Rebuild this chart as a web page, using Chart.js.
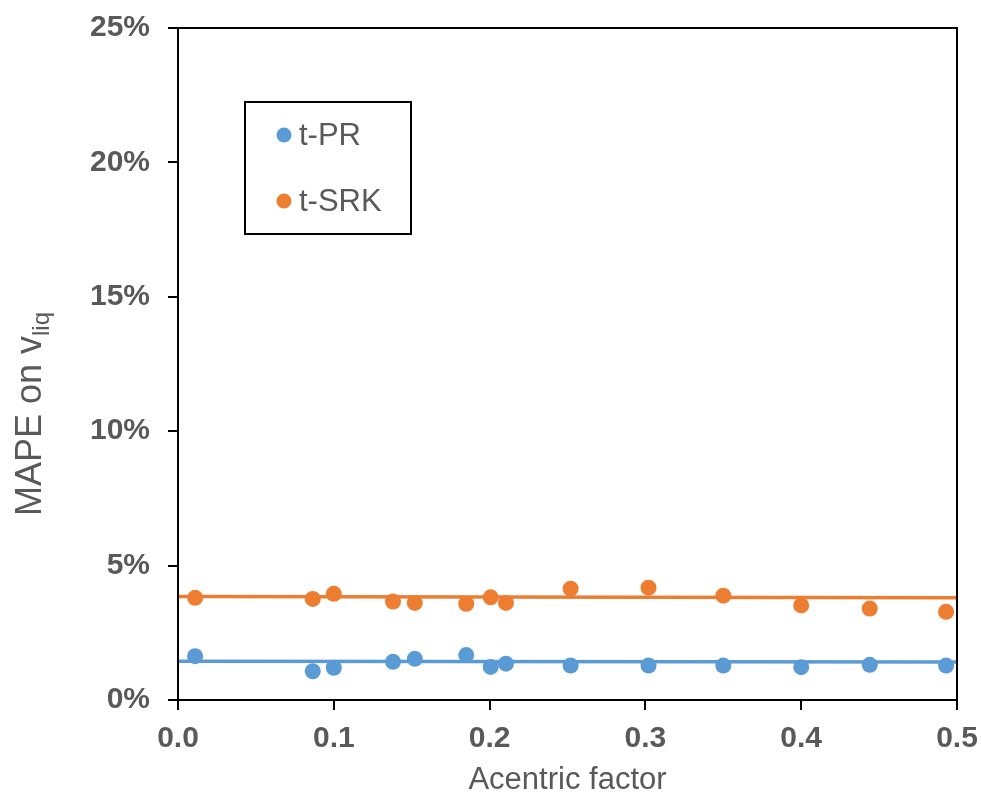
<!DOCTYPE html>
<html>
<head>
<meta charset="utf-8">
<script src="https://cdn.jsdelivr.net/npm/chart.js@4.4.1/dist/chart.umd.min.js"></script>
<style>
  body { margin: 0; background: #fff; }
  #wrap { width: 981px; height: 796px; }
</style>
</head>
<body>
<div id="wrap"><canvas id="chart" width="981" height="796"></canvas></div>
<script>
const acentric = [0.011, 0.0865, 0.1, 0.138, 0.152, 0.185, 0.2007, 0.2105, 0.252, 0.302, 0.35, 0.4, 0.444, 0.493];
const mapePR = [1.63, 1.07, 1.2, 1.42, 1.53, 1.67, 1.23, 1.35, 1.28, 1.28, 1.28, 1.22, 1.31, 1.28];
const mapeSRK = [3.8, 3.76, 3.95, 3.66, 3.61, 3.58, 3.82, 3.61, 4.14, 4.18, 3.88, 3.52, 3.4, 3.28];
// trendline ends, read at x = 0 and x = 0.5
const trendX = [0, 0.5];
const trendPR = [1.44, 1.41];
const trendSRK = [3.85, 3.8];
const yTicks = [0, 5, 10, 15, 20, 25];
const xTicks = [0, 0.1, 0.2, 0.3, 0.4, 0.5];

const BLUE = '#5B9BD5';
const ORANGE = '#ED7D31';
const GREY = '#595959';
const FONT = '"Liberation Sans", Arial, sans-serif';

function toPoints(xs, ys) {
  return xs.map((x, i) => ({ x: x, y: ys[i] }));
}

const frame = {
  id: 'frame',
  afterDraw(chart) {
    const { ctx, chartArea: a } = chart;
    ctx.save();
    ctx.strokeStyle = '#000';
    ctx.lineWidth = 2;
    ctx.strokeRect(a.left, a.top, a.right - a.left, a.bottom - a.top);
    ctx.restore();
  }
};

const yTitle = {
  id: 'yTitle',
  afterDraw(chart) {
    const ctx = chart.ctx;
    ctx.save();
    ctx.fillStyle = GREY;
    ctx.textBaseline = 'alphabetic';
    ctx.textAlign = 'left';
    ctx.font = '36px ' + FONT;
    const main = 'MAPE on v';
    const wMain = ctx.measureText(main).width;
    ctx.font = '24px ' + FONT;
    const wSub = ctx.measureText('liq').width;
    const total = wMain + wSub;
    ctx.translate(41, 414 + total / 2);
    ctx.rotate(-Math.PI / 2);
    ctx.font = '36px ' + FONT;
    ctx.fillText(main, 0, 0);
    ctx.font = '24px ' + FONT;
    ctx.fillText('liq', wMain, 8);
    ctx.restore();
  }
};

const boxLegend = {
  id: 'boxLegend',
  afterDraw(chart) {
    const { ctx, chartArea: a } = chart;
    const left = a.left + 67, top = a.top + 74;
    ctx.save();
    ctx.fillStyle = '#fff';
    ctx.fillRect(left, top, 166, 132);
    ctx.strokeStyle = '#000';
    ctx.lineWidth = 2;
    ctx.strokeRect(left, top, 166, 132);
    ctx.font = '31px ' + FONT;
    ctx.textBaseline = 'middle';
    ctx.textAlign = 'left';
    const items = chart.data.datasets.filter(d => d.type === 'scatter');
    items.forEach((d, i) => {
      const cy = top + 33 + i * 66;
      ctx.fillStyle = d.backgroundColor;
      ctx.beginPath();
      ctx.arc(left + 39, cy, 7.5, 0, Math.PI * 2);
      ctx.fill();
      ctx.fillStyle = GREY;
      ctx.fillText(d.label, left + 54, cy + 1);
    });
    ctx.restore();
  }
};

new Chart(document.getElementById('chart'), {
  data: {
    datasets: [
      {
        type: 'line', label: 'trend t-PR', data: toPoints(trendX, trendPR),
        borderColor: BLUE, borderWidth: 3.5, pointRadius: 0, fill: false, order: 1
      },
      {
        type: 'line', label: 'trend t-SRK', data: toPoints(trendX, trendSRK),
        borderColor: ORANGE, borderWidth: 3.5, pointRadius: 0, fill: false, order: 1
      },
      {
        type: 'scatter', label: 't-PR', data: toPoints(acentric, mapePR),
        backgroundColor: BLUE, borderWidth: 0, pointRadius: 8, order: 2
      },
      {
        type: 'scatter', label: 't-SRK', data: toPoints(acentric, mapeSRK),
        backgroundColor: ORANGE, borderWidth: 0, pointRadius: 8, order: 2
      }
    ]
  },
  options: {
    responsive: false,
    animation: false,
    devicePixelRatio: 1,
    layout: { padding: { top: 28, right: 24, left: 0, bottom: 0 } },
    plugins: { legend: { display: false }, tooltip: { enabled: false } },
    scales: {
      x: {
        type: 'linear', min: 0, max: 0.5,
        afterBuildTicks: (scale) => { scale.ticks = xTicks.map(v => ({ value: v })); },
        afterFit: (scale) => {
          scale.height = 96;
          scale.paddingLeft = 0;
          scale.paddingRight = 0;
        },
        grid: { drawOnChartArea: false, tickLength: 10, color: '#000', lineWidth: 2 },
        border: { color: '#000', width: 2 },
        ticks: {
          color: GREY, padding: 11,
          font: { family: FONT, size: 30, weight: 'bold' },
          callback: (v) => v.toFixed(1)
        },
        title: {
          display: true, text: 'Acentric factor', color: GREY,
          font: { family: FONT, size: 31 }, padding: { top: 0, bottom: -3 }
        }
      },
      y: {
        type: 'linear', min: 0, max: 25,
        afterBuildTicks: (scale) => { scale.ticks = yTicks.map(v => ({ value: v })); },
        afterFit: (scale) => {
          scale.width = 178;
          scale.paddingTop = 0;
          scale.paddingBottom = 0;
        },
        grid: { drawOnChartArea: false, tickLength: 10, color: '#000', lineWidth: 2 },
        border: { color: '#000', width: 2 },
        ticks: {
          color: GREY, padding: 18,
          font: { family: FONT, size: 30, weight: 'bold' },
          callback: (v) => v + '%'
        }
      }
    }
  },
  plugins: [frame, yTitle, boxLegend]
});
</script>
</body>
</html>
